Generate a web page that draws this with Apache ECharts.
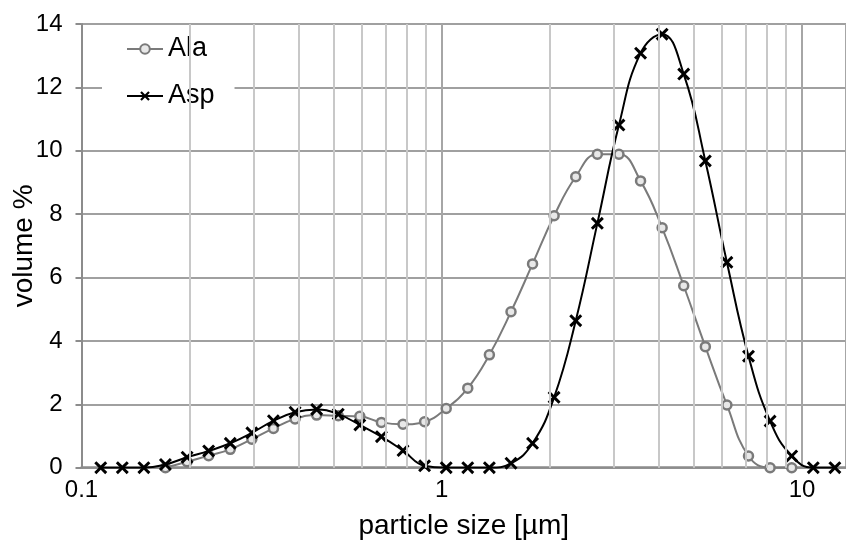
<!DOCTYPE html>
<html>
<head>
<meta charset="utf-8">
<script src="https://cdn.jsdelivr.net/npm/echarts@6/dist/echarts.min.js"></script>
<style>
html,body{margin:0;padding:0;background:#fff;}
#chart{width:846px;height:542px;}
</style>
</head>
<body>
<div id="chart"></div>
<script>
// particle size bins (µm)
var sizes = [0.1131,0.1298,0.1490,0.1710,0.1964,0.2254,0.2588,0.2971,0.3410,0.3916,
             0.4495,0.5161,0.5924,0.6801,0.7807,0.8962,1.029,1.181,1.356,1.557,
             1.787,2.051,2.355,2.704,3.104,3.564,4.091,4.696,5.392,6.189,
             7.105,8.157,9.365,10.75,12.34];
var alaValues = [null,null,null,0,0.19,0.38,0.58,0.90,1.24,1.54,
                 1.66,1.64,1.62,1.43,1.37,1.45,1.87,2.51,3.56,4.92,
                 6.43,7.95,9.18,9.89,9.89,9.05,7.57,5.74,3.82,1.98,
                 0.37,0,0,null,null];
var aspValues = [0,0,0,0.10,0.33,0.53,0.77,1.10,1.48,1.75,
                 1.84,1.69,1.35,0.98,0.54,0.06,0,0,0,0.14,
                 0.77,2.22,4.64,7.71,10.81,13.08,13.68,12.42,9.68,6.48,
                 3.52,1.47,0.37,0,0];
var seriesNames = ['Ala','Asp'];
var xMajorLabels = [0.1, 1, 10];
var xMinorGrid = [0.2,0.3,0.4,0.5,0.6,0.7,0.8,0.9,2,3,4,5,6,7,8,9];

function pairs(vals){
  var out = [];
  for (var i=0;i<sizes.length;i++){ if (vals[i]!==null) out.push([sizes[i], vals[i]]); }
  return out;
}
var FONT = 'Arial, "Liberation Sans", sans-serif';
var xSymbol = 'path://M0,1.6 L1.6,0 L5,3.4 L8.4,0 L10,1.6 L6.6,5 L10,8.4 L8.4,10 L5,6.6 L1.6,10 L0,8.4 L3.4,5 Z';

var chart = echarts.init(document.getElementById('chart'), null, {renderer:'canvas'});
chart.setOption({
  animation:false,
  backgroundColor:'#fff',
  textStyle:{fontFamily:FONT},
  grid:{left:81.5, right:0, top:24, bottom:74.3, containLabel:false, outerBoundsMode:'none'},
  legend:{
    data:seriesNames,
    orient:'vertical',
    left:102, top:25,
    backgroundColor:'#fff',
    padding:[8,20,8,24],
    itemWidth:36, itemHeight:12, itemGap:15,
    textStyle:{fontFamily:FONT, fontSize:27, color:'#000', lineHeight:32}
  },
  xAxis:{
    type:'log', logBase:10, min:0.1, max:13.25,
    name:'particle size [µm]', nameLocation:'middle', nameGap:45, nameMoveOverlap:false,
    nameTextStyle:{fontFamily:FONT, fontSize:28, color:'#000'},
    axisLine:{show:true, onZero:false, lineStyle:{color:'#8c8c8c', width:2.5}},
    axisTick:{show:false},
    axisLabel:{fontFamily:FONT, fontSize:24, color:'#000', margin:11,
      showMaxLabel:false,
      formatter:function(v){ for (var i=0;i<xMajorLabels.length;i++){ if (Math.abs(v-xMajorLabels[i])<1e-9) return String(xMajorLabels[i]); } return ''; }},
    splitLine:{show:true, lineStyle:{color:'#a6a6a6', width:2}}
  },
  yAxis:{
    type:'value', min:0, max:14, interval:2,
    name:'volume %', nameLocation:'middle', nameGap:43, nameMoveOverlap:false,
    nameTextStyle:{fontFamily:FONT, fontSize:28, color:'#000'},
    axisLine:{show:true, lineStyle:{color:'#8c8c8c', width:2}},
    axisTick:{show:true, length:6, lineStyle:{color:'#8c8c8c', width:2}},
    axisLabel:{fontFamily:FONT, fontSize:24, color:'#000', margin:19},
    splitLine:{show:true, lineStyle:{color:'#a0a0a0', width:2}}
  },
  series:[
    {
      name:'minor', type:'line', data:[], z:1, silent:true,
      markLine:{silent:true, symbol:['none','none'], label:{show:false},
        lineStyle:{color:'#c8c8c8', width:2, type:'solid'},
        emphasis:{disabled:true},
        data:xMinorGrid.map(function(v){return {xAxis:v};})}
    },
    {
      name:'Ala', type:'line', z:3, smooth:0.45,
      data:pairs(alaValues),
      symbol:'circle', symbolSize:9, showAllSymbol:true,
      lineStyle:{color:'#7a7a7a', width:2},
      itemStyle:{color:'#e8e8e8', borderColor:'#7a7a7a', borderWidth:2.5}
    },
    {
      name:'Asp', type:'line', z:4, smooth:0.45,
      data:pairs(aspValues),
      symbol:xSymbol, symbolSize:13, showAllSymbol:true,
      lineStyle:{color:'#000', width:2},
      itemStyle:{color:'#000', borderWidth:0}
    }
  ]
});
</script>
</body>
</html>
